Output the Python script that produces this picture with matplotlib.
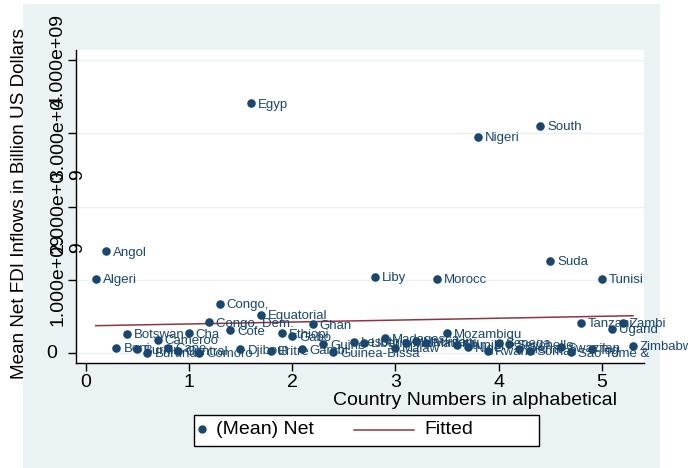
import matplotlib.pyplot as plt
import matplotlib.transforms as mtransforms
from matplotlib.patches import Rectangle
from matplotlib.lines import Line2D

plt.rcParams['font.family'] = ['Liberation Sans', 'DejaVu Sans']

# country number (alphabetical / 10) and mean net FDI inflow in US dollars
country_num = [0.1, 0.2, 0.3, 0.4, 0.5, 0.6, 0.7, 0.8, 0.9, 1.0,
               1.1, 1.2, 1.3, 1.4, 1.5, 1.6, 1.7, 1.8, 1.9, 2.0,
               2.1, 2.2, 2.3, 2.4, 2.6, 2.7, 2.8, 2.9, 3.0, 3.1,
               3.2, 3.3, 3.4, 3.5, 3.6, 3.7, 3.8, 3.9, 4.0, 4.1,
               4.2, 4.3, 4.4, 4.5, 4.6, 4.7, 4.8, 4.9, 5.0, 5.1,
               5.2, 5.3]
country_lbl = ["Algeri", "Angol", "Beni", "Botswan", "Burkin", "Burund", "Cameroo", "Cape", "Central", "Cha",
               "Comoro", "Congo, Dem.", "Congo,", "Cote", "Djibout", "Egyp", "Equatorial", "Eritre", "Ethiopi", "Gabo",
               "Gambi", "Ghan", "Guine", "Guinea-Bissa", "Lesoth", "Liberi", "Liby", "Madagasca", "Malaw", "Mal",
               "Mauritani", "Mauritiu", "Morocc", "Mozambiqu", "Namibi", "Nige", "Nigeri", "Rwand", "Senega", "Seychelle",
               "Sierra", "Somali", "South", "Suda", "Swazilan", "Sao Tome &", "Tanzani", "Tog", "Tunisi", "Ugand",
               "Zambi", "Zimbabw"]
fdi = [1.01e9, 1.39e9, 0.07e9, 0.26e9, 0.05e9, 0.00e9, 0.18e9, 0.07e9, 0.03e9, 0.27e9,
       0.00e9, 0.42e9, 0.67e9, 0.31e9, 0.05e9, 3.41e9, 0.52e9, 0.03e9, 0.27e9, 0.23e9,
       0.05e9, 0.39e9, 0.12e9, 0.01e9, 0.15e9, 0.14e9, 1.04e9, 0.20e9, 0.07e9, 0.14e9,
       0.16e9, 0.14e9, 1.01e9, 0.27e9, 0.11e9, 0.08e9, 2.95e9, 0.03e9, 0.14e9, 0.12e9,
       0.06e9, 0.03e9, 3.10e9, 1.26e9, 0.08e9, 0.01e9, 0.41e9, 0.05e9, 1.01e9, 0.33e9,
       0.41e9, 0.10e9]

# fitted line end points
fit_x = [0.1, 5.3]
fit_y = [0.373e9, 0.509e9]

ytick_vals = [0, 1e9, 2e9, 3e9, 4e9]
ytick_text = ["0", "1.000e+09", "2.000e+0\n9", "3.000e+0\n9", "4.000e+09"]
xtick_vals = [0, 1, 2, 3, 4, 5]

NAVY = '#1A476F'
MAROON = '#90353B'
BG = '#EAF2F3'
FS = 14.0

W, H = 688, 468
def fx(px):
    return px / W
def fy(py):
    return 1 - py / H

fig = plt.figure(figsize=(6.88, 4.68), dpi=100)
fig.patches.append(Rectangle((fx(23), 0), fx(660) - fx(23), fy(4), transform=fig.transFigure,
                             facecolor=BG, edgecolor='none', zorder=-10))

ax = fig.add_axes([fx(76), fy(363), fx(644) - fx(76), fy(50) - fy(363)])
ax.set_xlim(-0.092, 5.407)
ax.set_ylim(-0.1365e9, 4.137e9)

ax.scatter(country_num, fdi, s=38, color=NAVY, linewidths=0, zorder=3)
for x, y, t in zip(country_num, fdi, country_lbl):
    ax.annotate(t, (x, y), xytext=(5, -1), textcoords='offset points', ha='left', va='center',
                fontsize=9.5, color=NAVY, zorder=4)
ax.plot(fit_x, fit_y, color=MAROON, lw=1.1, zorder=2)

for s in ['top', 'right']:
    ax.spines[s].set_visible(False)
for s in ['left', 'bottom']:
    ax.spines[s].set_linewidth(1.0)

ax.set_xticks(xtick_vals)
ax.tick_params(axis='x', length=6, width=1, labelsize=FS, pad=2)
ax.set_yticks(ytick_vals)
ax.set_yticklabels([])
ax.tick_params(axis='y', length=6, width=1)
ax.yaxis.grid(True, color=BG, lw=1)
ax.set_axisbelow(True)

trans = mtransforms.blended_transform_factory(fig.transFigure, ax.transData)
for v, t in zip(ytick_vals, ytick_text):
    if t == "0":
        ax.text(fx(52), v, t, transform=trans, ha='center', va='center', fontsize=FS)
    elif "\n" in t:
        ax.text(fx(68), v - 0.08e9, t, transform=trans, ha='center', va='center', rotation=90,
                multialignment='left', linespacing=1.1, fontsize=FS)
    else:
        ax.text(fx(58), v, t, transform=trans, ha='center', va='center', rotation=90, fontsize=FS)

fig.text(fx(20), fy(204), "Mean Net FDI Inflows in Billion US Dollars", rotation=90,
         ha='center', va='center', fontsize=13.6)
fig.text(fx(475), fy(405), "Country Numbers in alphabetical", ha='center', va='baseline', fontsize=FS)

# legend
fig.patches.append(Rectangle((fx(194), fy(446)), fx(539) - fx(194), fy(415) - fy(446),
                             transform=fig.transFigure, facecolor='white', edgecolor='black', lw=1))
fig.add_artist(Line2D([fx(202)], [fy(429)], marker='o', markersize=5, color=NAVY, ls='none',
                      transform=fig.transFigure))
fig.text(fx(216), fy(430), "(Mean) Net", ha='left', va='center', fontsize=FS)
fig.add_artist(Line2D([fx(354), fx(414)], [fy(430), fy(430)], color=MAROON, lw=1.1,
                      transform=fig.transFigure))
fig.text(fx(424), fy(430), "Fitted", ha='left', va='center', fontsize=FS)

fig.savefig('out.png', dpi=100)
